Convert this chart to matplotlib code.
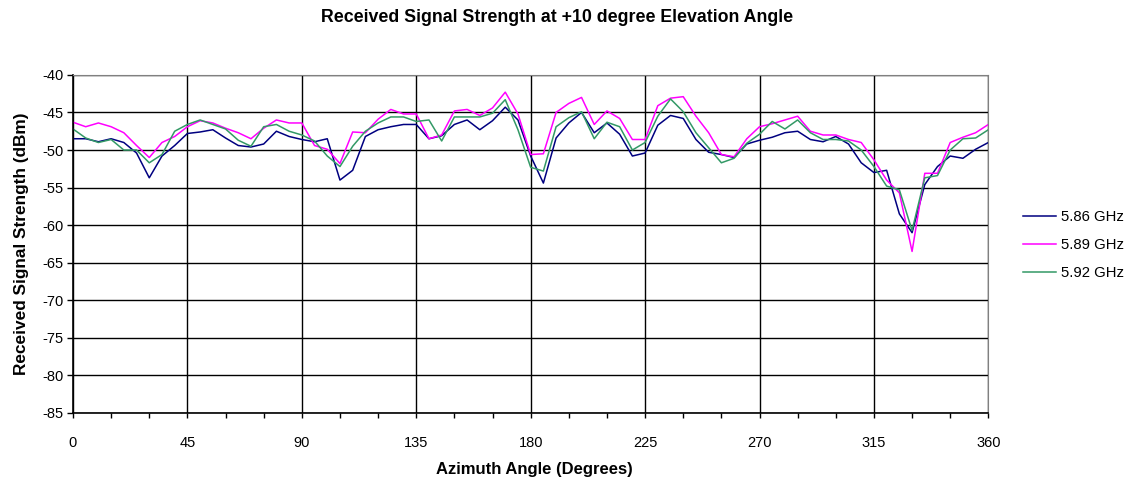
import numpy as np
import matplotlib
matplotlib.use('Agg')
import matplotlib.pyplot as plt
from matplotlib.ticker import MultipleLocator

plt.rcParams['font.family'] = ['Liberation Sans', 'DejaVu Sans']
plt.rcParams['axes.unicode_minus'] = False

# azimuth angle, one sample every 5 degrees
azimuth = np.arange(0, 361, 5)

rss_586 = [-48.5, -48.5, -48.9, -48.5, -49.0, -50.4, -53.7, -50.8, -49.4, -47.8,
           -47.6, -47.3, -48.4, -49.4, -49.6, -49.2, -47.5, -48.2, -48.6, -48.9,
           -48.5, -54.0, -52.7, -48.2, -47.3, -46.9, -46.6, -46.6, -48.5, -48.1,
           -46.6, -46.0, -47.3, -46.1, -44.3, -46.0, -50.8, -54.4, -48.4, -46.4,
           -45.0, -47.7, -46.4, -47.9, -50.8, -50.4, -46.7, -45.4, -45.8, -48.6,
           -50.3, -50.6, -51.0, -49.2, -48.7, -48.3, -47.7, -47.5, -48.6, -48.9,
           -48.2, -49.2, -51.7, -53.0, -52.7, -58.5, -61.0, -54.6, -52.2, -50.8,
           -51.1, -49.9, -49.0]

rss_589 = [-46.3, -46.9, -46.4, -46.9, -47.7, -49.4, -51.0, -49.0, -48.2, -46.9,
           -46.1, -46.4, -47.1, -47.7, -48.5, -47.1, -46.0, -46.4, -46.4, -49.4,
           -49.9, -51.8, -47.6, -47.7, -45.9, -44.6, -45.2, -45.2, -48.5, -48.0,
           -44.8, -44.6, -45.4, -44.4, -42.3, -45.2, -50.6, -50.5, -45.0, -43.8,
           -43.0, -46.6, -44.8, -45.8, -48.6, -48.6, -44.1, -43.1, -42.9, -45.5,
           -47.7, -50.6, -50.9, -48.5, -46.9, -46.5, -46.0, -45.5, -47.5, -48.0,
           -48.0, -48.6, -49.0, -51.3, -54.0, -55.7, -63.5, -53.1, -53.1, -49.0,
           -48.3, -47.7, -46.6]

rss_592 = [-47.2, -48.4, -49.0, -48.6, -50.0, -50.0, -51.7, -50.6, -47.5, -46.6,
           -46.0, -46.6, -47.2, -48.7, -49.5, -46.9, -46.6, -47.5, -48.0, -48.8,
           -50.8, -52.2, -49.5, -47.5, -46.4, -45.6, -45.6, -46.2, -46.0, -48.8,
           -45.6, -45.6, -45.6, -45.1, -43.3, -47.3, -52.3, -52.8, -46.9, -45.7,
           -44.9, -48.5, -46.3, -46.9, -50.0, -49.0, -45.5, -43.2, -44.9, -47.7,
           -49.7, -51.7, -51.1, -49.1, -47.9, -46.2, -47.2, -46.0, -47.7, -48.6,
           -48.6, -48.8, -50.0, -52.2, -54.8, -55.3, -60.7, -53.7, -53.4, -50.0,
           -48.5, -48.4, -47.3]

series = [('5.86 GHz', rss_586, '#000080'),
          ('5.89 GHz', rss_589, '#FF00FF'),
          ('5.92 GHz', rss_592, '#339966')]

fig = plt.figure(figsize=(11.28, 4.8), dpi=100)
ax = fig.add_axes([0.0647, 0.1396, 0.8115, 0.7044])

for name, vals, col in series:
    ax.plot(azimuth, vals, color=col, linewidth=1.1, label=name)

ax.set_xlim(0, 360)
ax.set_ylim(-85, -40)
ax.set_xticks(np.arange(0, 361, 45))
ax.xaxis.set_minor_locator(MultipleLocator(15))
ax.set_yticks(np.arange(-85, -39, 5))
ax.grid(True, which='major', color='black', linewidth=1.0)
ax.set_axisbelow(True)
ax.tick_params(axis='x', which='both', labelsize=10.5, length=3.6, width=1,
               direction='out', color='black', pad=13)
ax.tick_params(axis='y', labelsize=10.5, length=4.3, width=1,
               direction='out', color='black', pad=2.5)

for side in ['top', 'right']:
    ax.spines[side].set_color('#808080')
for side in ['left', 'bottom']:
    ax.spines[side].set_color('black')
    ax.spines[side].set_linewidth(1.2)

fig.text(0.0195, 0.492, 'Received Signal Strength (dBm)', rotation=90,
         ha='center', va='center', fontsize=12.4, fontweight='bold')
fig.text(0.474, 0.021, 'Azimuth Angle (Degrees)', ha='center', va='center',
         fontsize=12, fontweight='bold')
fig.text(0.494, 0.964, 'Received Signal Strength at +10 degree Elevation Angle',
         ha='center', va='center', fontsize=12.8, fontweight='bold')

fig.legend(loc='center left', bbox_to_anchor=(0.907, 0.489), frameon=False,
           fontsize=10.7, handlelength=2.2, handletextpad=0.35, labelspacing=0.95,
           borderpad=0, borderaxespad=0)

fig.savefig('out.png', dpi=100)
